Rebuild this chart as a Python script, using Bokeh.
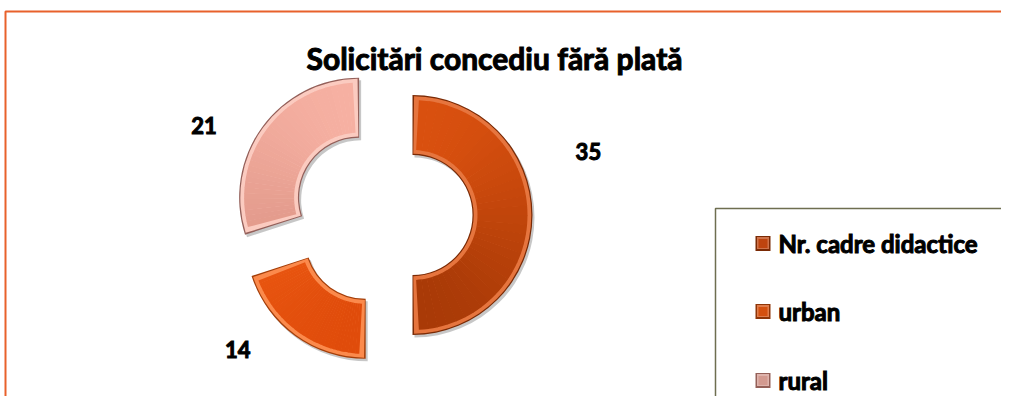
import math
from bokeh.plotting import figure
from bokeh.models import Range1d
from bokeh.core.properties import value
from bokeh.embed import file_html
from bokeh.resources import INLINE

# ---------------- data ----------------
title_text = "Solicitări concediu fără plată"
categories = ["Nr. cadre didactice", "urban", "rural"]
values = [35, 14, 21]

# ---------------- styles ----------------
light_cols = ["#D9500F", "#F8661A", "#F6B0A2"]
dark_cols = ["#A93A07", "#E04C0B", "#D88F80"]
edge_cols = ["#7A2A05", "#A43E09", "#94605A"]
hi_cols = ["#E6753E", "#FB8A4C", "#FBCBC0"]
legend_cols = ["#BE440F", "#D4500F", "#D39A90"]
legend_edge = ["#7A2A05", "#8E3507", "#946058"]

W, H = 1001, 396


def px(X):
    return X


def py(Y):
    return H - Y


CX, CY = px(382.5), py(214.5)
R_OUT, R_IN = 120, 60
EXPLODE = 29.5
LABEL_SHIFT = [17.2, -11.2, 9.5]     # degrees, layout nudges of the data labels
LABEL_R = [215, 198, 200]

TXT = dict(text_font=value("Lato"), text_font_style="bold", text_color="#000000",
           text_outline_color="#000000")

p = figure(width=W, height=H, x_range=Range1d(0, W), y_range=Range1d(0, H),
           output_backend="svg", toolbar_location=None, min_border=0,
           x_axis_location=None, y_axis_location=None)
p.grid.visible = False
p.outline_line_color = None
p.background_fill_color = "white"
p.border_fill_color = "white"

# chart border
p.quad(left=[px(5)], right=[W + 20], top=[py(11)], bottom=[-20],
       fill_color=None, line_color="#E8612B", line_width=2)

# title
p.text(x=[px(494)], y=[py(57)], text=[title_text], text_font_size="30px",
       text_align="center", text_baseline="middle", **TXT)


def lerp_col(c1, c2, t):
    a = [int(c1[k:k + 2], 16) for k in (1, 3, 5)]
    b = [int(c2[k:k + 2], 16) for k in (1, 3, 5)]
    return "#%02x%02x%02x" % tuple(int(round(a[j] + (b[j] - a[j]) * t)) for j in range(3))


total = sum(values)
cum = 0
for i, v in enumerate(values):
    a0 = math.radians(90 - 360 * cum / total)
    a1 = math.radians(90 - 360 * (cum + v) / total)
    cum += v
    mid = (a0 + a1) / 2
    cx = CX + EXPLODE * math.cos(mid)
    cy = CY + EXPLODE * math.sin(mid)
    rm = (R_IN + R_OUT) / 2
    # shadow
    p.annular_wedge(x=cx + 2, y=cy - 2.5, inner_radius=R_IN, outer_radius=R_OUT,
                    start_angle=a0, end_angle=a1, direction="clock",
                    fill_color="#000000", fill_alpha=0.22, line_color=None)
    # dark edge
    p.annular_wedge(x=cx, y=cy, inner_radius=R_IN, outer_radius=R_OUT,
                    start_angle=a0, end_angle=a1, direction="clock",
                    fill_color=edge_cols[i], line_color=None)
    # highlight bevel
    d1 = 1.2 / rm
    p.annular_wedge(x=cx, y=cy, inner_radius=R_IN + 1.2, outer_radius=R_OUT - 1.2,
                    start_angle=a0 - d1, end_angle=a1 + d1, direction="clock",
                    fill_color=hi_cols[i], line_color=None)
    # main body with vertical-ish gradient
    d2 = 5.0 / rm
    s0, s1 = a0 - d2, a1 + d2
    n = 36
    for k in range(n):
        t0 = s0 + (s1 - s0) * k / n
        t1 = s0 + (s1 - s0) * (k + 1) / n
        tm = (t0 + t1) / 2
        frac = (1 - math.sin(tm)) / 2
        col = lerp_col(light_cols[i], dark_cols[i], frac)
        ext = 0.004 if k < n - 1 else 0
        p.annular_wedge(x=cx, y=cy, inner_radius=R_IN + 5, outer_radius=R_OUT - 5,
                        start_angle=t0, end_angle=t1 - ext, direction="clock",
                        fill_color=col, line_color=None)
    # data label
    la = mid + math.radians(LABEL_SHIFT[i])
    p.text(x=[CX + LABEL_R[i] * math.cos(la)], y=[CY + LABEL_R[i] * math.sin(la)],
           text=[str(v)], text_font_size="22px", text_align="center",
           text_baseline="middle", **TXT)

# legend box
p.quad(left=[px(715)], right=[W + 40], top=[py(208)], bottom=[-40],
       fill_color="white", line_color="#6E6E50", line_width=1.5)

leg_y = [py(243), py(311), py(380)]
for i, cat in enumerate(categories):
    p.rect(x=[px(762.5)], y=[leg_y[i]], width=15, height=15,
           fill_color=legend_edge[i], line_color=None)
    p.rect(x=[px(762.5)], y=[leg_y[i] + 0.5], width=12, height=12,
           fill_color=lerp_col(legend_cols[i], "#FFFFFF", 0.25), line_color=None)
    p.rect(x=[px(762.5)], y=[leg_y[i]], width=9, height=9,
           fill_color=legend_cols[i], line_color=None)
    p.text(x=[px(778)], y=[leg_y[i]], text=[cat], text_font_size="24px",
           text_align="left", text_baseline="middle", **TXT)

open("out.html", "w").write(file_html(p, INLINE))
